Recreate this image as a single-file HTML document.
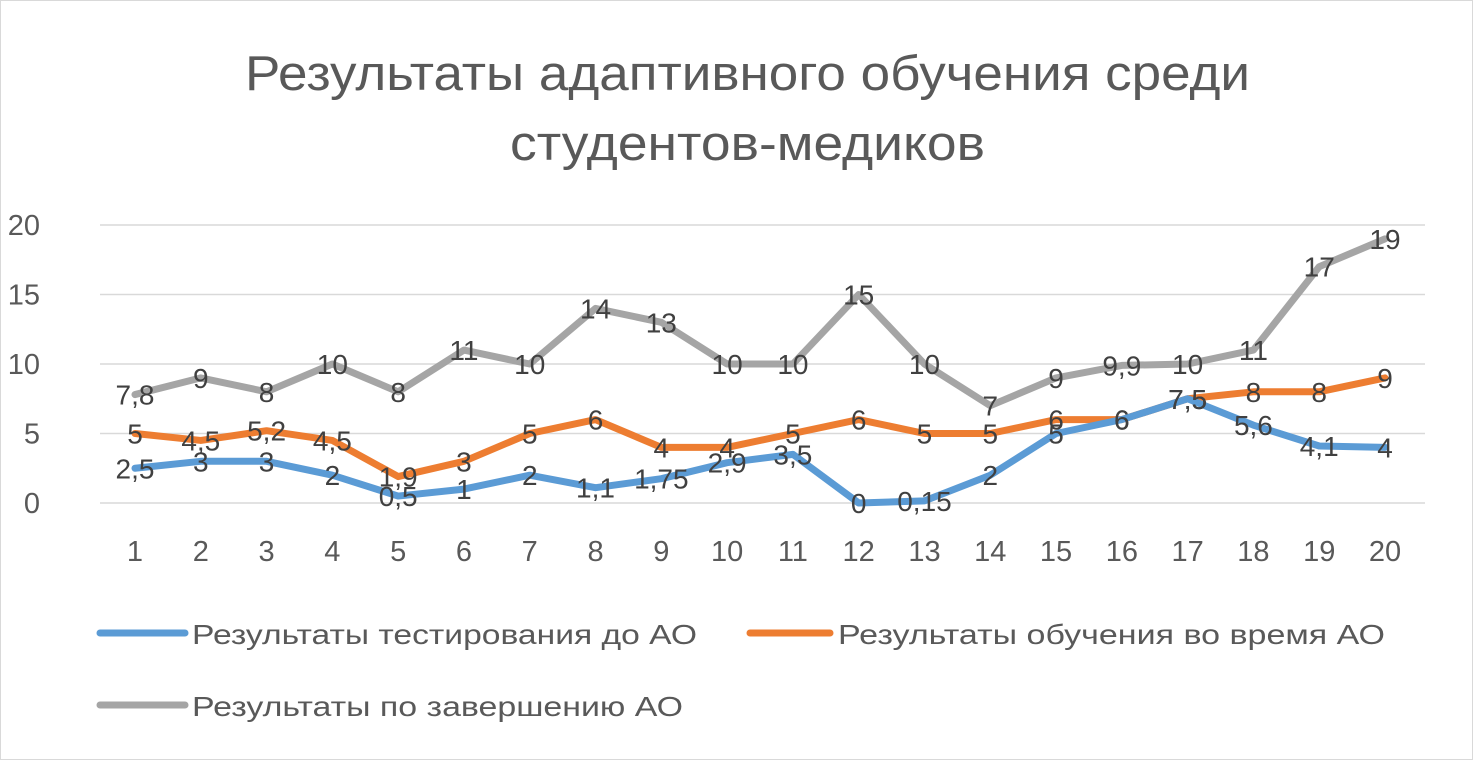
<!DOCTYPE html>
<html><head><meta charset="utf-8"><style>
body{margin:0;background:#fff}
svg{display:block;font-family:"Liberation Sans","DejaVu Sans",sans-serif}
</style></head><body>
<svg id="c" width="1473" height="760">
<rect x="0.5" y="0.5" width="1472" height="759" fill="#fff" stroke="#d9d9d9"/>
<text x="245" y="90" textLength="1005" lengthAdjust="spacingAndGlyphs" font-size="49" fill="#595959">Результаты адаптивного обучения среди</text>
<text x="510" y="160" textLength="475" lengthAdjust="spacingAndGlyphs" font-size="49" fill="#595959">студентов-медиков</text>
<g id="grid"></g><g id="ticks"></g><g id="lines"></g><g id="labels"></g>
<g>
<line x1="100" y1="633" x2="185" y2="633" stroke="#5b9bd5" stroke-width="7" stroke-linecap="round"/>
<text x="192" y="644" textLength="505" lengthAdjust="spacingAndGlyphs" font-size="28" fill="#595959">Результаты тестирования до АО</text>
<line x1="750" y1="633" x2="830" y2="633" stroke="#ed7d31" stroke-width="7" stroke-linecap="round"/>
<text x="838" y="644" textLength="547" lengthAdjust="spacingAndGlyphs" font-size="28" fill="#595959">Результаты обучения во время АО</text>
<line x1="100" y1="705" x2="185" y2="705" stroke="#a5a5a5" stroke-width="7" stroke-linecap="round"/>
<text x="192" y="716" textLength="491" lengthAdjust="spacingAndGlyphs" font-size="28" fill="#595959">Результаты по завершению АО</text>
</g>
</svg>
<script>
const categories=[1,2,3,4,5,6,7,8,9,10,11,12,13,14,15,16,17,18,19,20];
const before=[2.5,3,3,2,0.5,1,2,1.1,1.75,2.9,3.5,0,0.15,2,5,6,7.5,5.6,4.1,4];
const during=[5,4.5,5.2,4.5,1.9,3,5,6,4,4,5,6,5,5,6,6,7.5,8,8,9];
const after=[7.8,9,8,10,8,11,10,14,13,10,10,15,10,7,9,9.9,10,11,17,19];
const yTicks=[0,5,10,15,20];
const NS="http://www.w3.org/2000/svg";
const x=i=>135+i*(1385-135)/19;
const y=v=>503-v*(503-225)/20;
function el(t,a,p){const e=document.createElementNS(NS,t);for(const k in a)e.setAttribute(k,a[k]);document.getElementById(p).appendChild(e);return e;}
yTicks.forEach(t=>{
 const g=el('line',{x1:100,x2:1425,y1:y(t),y2:y(t),stroke:'#d9d9d9','stroke-width':1.5},'grid');
 
 
 const l=el('text',{x:40,y:y(t)+10,'text-anchor':'end','font-size':29,fill:'#595959'},'ticks');
 l.textContent=t;
 
 
});
categories.forEach((c,i)=>{
 const l=el('text',{x:x(i),y:561,'text-anchor':'middle','font-size':29,fill:'#595959'},'ticks');
 l.textContent=c;
 
 
});
[[after,'#a5a5a5','after'],[during,'#ed7d31','during'],[before,'#5b9bd5','before']].forEach(([d,col,n])=>{
 const p=el('polyline',{points:d.map((v,i)=>x(i)+','+y(v)).join(' '),fill:'none',stroke:col,'stroke-width':7,'stroke-linejoin':'round','stroke-linecap':'round'},'lines');
 
 
});
[[before,'before'],[during,'during'],[after,'after']].forEach(([d,n])=>{
 d.forEach((v,i)=>{
  const t=el('text',{x:x(i),y:y(v)+10,'text-anchor':'middle','font-size':28,fill:'#404040'},'labels');
  t.textContent=String(v).replace('.',',');
  
  
 });
});
</script>
</body></html>
